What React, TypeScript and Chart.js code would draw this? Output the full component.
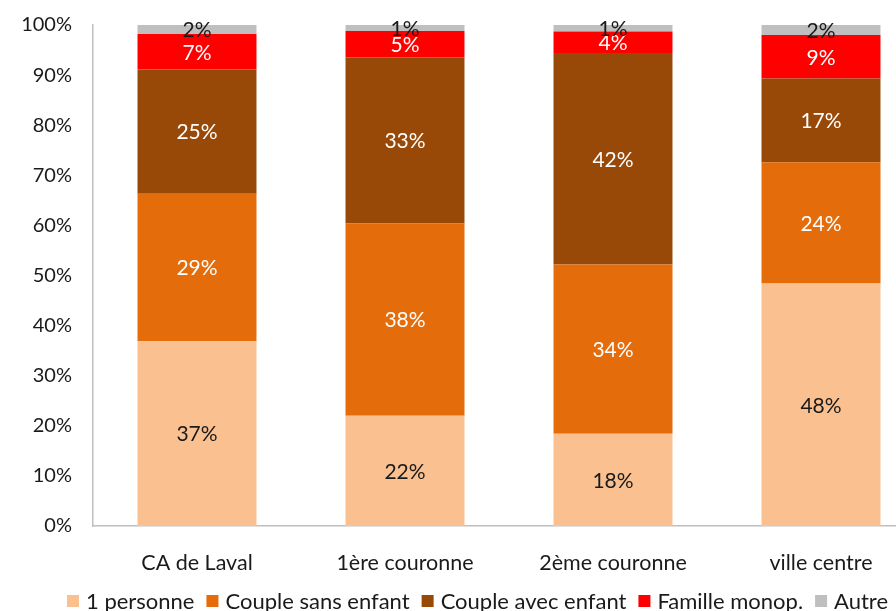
import React, { useEffect, useRef } from "react";
import { Chart, registerables } from "chart.js";

Chart.register(...registerables);

const categories = ["CA de Laval", "1ère couronne", "2ème couronne", "ville centre"];
const seriesNames = ["1 personne", "Couple sans enfant", "Couple avec enfant", "Famille monop.", "Autre"];
const unePersonne = [36.9, 22.0, 18.4, 48.4];
const coupleSansEnfant = [29.4, 38.4, 33.8, 24.2];
const coupleAvecEnfant = [24.8, 33.1, 42.2, 16.7];
const familleMonop = [7.1, 5.3, 4.3, 8.7];
const autre = [1.8, 1.2, 1.3, 2.0];
const yTicks = [0, 10, 20, 30, 40, 50, 60, 70, 80, 90, 100];

const seriesValues = [unePersonne, coupleSansEnfant, coupleAvecEnfant, familleMonop, autre];
const seriesColors = ["#FAC090", "#E46C0A", "#984807", "#FF0000", "#BFBFBF"];
const labelColors = ["#1a1a1a", "#ffffff", "#ffffff", "#ffffff", "#1a1a1a"];

const FONT = "Lato, 'Open Sans', sans-serif";

const labelPlugin = {
  id: "segLabels",
  afterDatasetsDraw(chart: any) {
    const ctx = chart.ctx;
    ctx.save();
    ctx.font = `21px ${FONT}`;
    ctx.textAlign = "center";
    ctx.textBaseline = "middle";
    chart.data.datasets.forEach((ds: any, di: number) => {
      const meta = chart.getDatasetMeta(di);
      meta.data.forEach((el: any, i: number) => {
        const p = el.getProps(["x", "y", "base"], true);
        const v = ds.data[i];
        ctx.fillStyle = labelColors[di];
        ctx.fillText(Math.round(v) + "%", p.x, (p.y + p.base) / 2 + 1);
      });
    });
    ctx.restore();
  },
};

const legendPlugin = {
  id: "customLegend",
  afterDraw(chart: any) {
    const ctx = chart.ctx;
    ctx.save();
    ctx.font = `22px ${FONT}`;
    ctx.textBaseline = "middle";
    ctx.textAlign = "left";
    let x = 67;
    const y = 601;
    chart.data.datasets.forEach((ds: any) => {
      ctx.fillStyle = ds.backgroundColor;
      ctx.fillRect(x, y - 6, 12, 12);
      x += 12 + 7;
      ctx.fillStyle = "#1a1a1a";
      ctx.fillText(ds.label, x, y + 1);
      x += ctx.measureText(ds.label).width + 12;
    });
    ctx.restore();
  },
};

export default function App() {
  const ref = useRef<HTMLCanvasElement>(null);
  useEffect(() => {
    if (!ref.current) return;
    const chart = new Chart(ref.current, {
      type: "bar",
      data: {
        labels: categories,
        datasets: seriesNames.map((name, i) => ({
          label: name,
          data: seriesValues[i],
          backgroundColor: seriesColors[i],
          borderWidth: 0,
          categoryPercentage: 1,
          barPercentage: 0.572,
        })),
      },
      options: {
        animation: false,
        responsive: false,
        devicePixelRatio: 1,
        layout: { padding: { top: 10, left: 0, right: 0, bottom: 35 } },
        plugins: {
          tooltip: { enabled: false },
          legend: { display: false },
        },
        scales: {
          x: {
            stacked: true,
            grid: { display: false },
            border: { display: true, color: "#BFBFBF", width: 1.5 },
            ticks: { color: "#1a1a1a", font: { family: FONT, size: 21.5 }, padding: 16 },
            afterFit: (s: any) => { s.height = 50; },
          },
          y: {
            stacked: true,
            min: 0,
            max: 100,
            afterBuildTicks: (s: any) => { s.ticks = yTicks.map((v) => ({ value: v })); },
            grid: { display: false },
            border: { display: true, color: "#BFBFBF", width: 1.5 },
            ticks: {
              color: "#1a1a1a",
              font: { family: FONT, size: 20 },
              padding: 13,
              callback: (v: any) => v + "%",
            },
            afterFit: (s: any) => { s.width = 93; },
          },
        },
      },
      plugins: [labelPlugin, legendPlugin],
    });
    return () => chart.destroy();
  }, []);
  return (
    <div style={{ position: "fixed", left: 0, top: 0, width: 896, height: 611, overflow: "hidden", background: "#fff" }}>
      <canvas ref={ref} width={925} height={611} style={{ display: "block" }} />
    </div>
  );
}
